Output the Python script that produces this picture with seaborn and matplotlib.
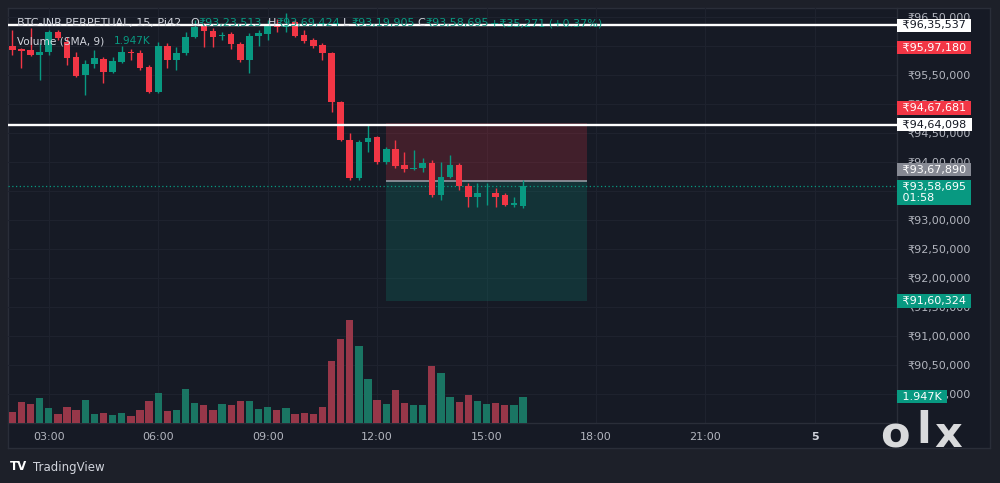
import numpy as np
import pandas as pd
import matplotlib
matplotlib.use("Agg")
import matplotlib.pyplot as plt
import seaborn as sns
from matplotlib.patches import Rectangle

# ---------------- data ----------------
symbol = "BTC-INR PERPETUAL, 15, Pi42"
first_bar_hour = 2          # first candle opens 02:00, 15-minute bars
bars_per_hour = 4

time_tick_labels = ["03:00", "06:00", "09:00", "12:00", "15:00", "18:00", "21:00", "5"]
time_tick_hours = [3, 6, 9, 12, 15, 18, 21, 24]

open_ = [9600517, 9594828, 9593103, 9584483, 9589655, 9624138, 9606897, 9581034,
         9550000, 9568966, 9577586, 9555172, 9572414, 9589655, 9587931, 9563793,
         9520690, 9600000, 9575862, 9587931, 9615517, 9636207, 9625862, 9617241,
         9620690, 9603448, 9575862, 9617241, 9620690, 9636207, 9632759, 9641379,
         9618966, 9610345, 9601724, 9587931, 9503448, 9437931, 9372414, 9434483,
         9443103, 9400000, 9422414, 9394828, 9387931, 9389655, 9398276, 9343103,
         9374138, 9394828, 9358621, 9339655, 9345690, 9346552, 9343103, 9325862,
         9323513]
high = [9627586, 9596552, 9631035, 9605172, 9627586, 9627586, 9615517, 9589655,
        9575862, 9593103, 9581034, 9581034, 9600000, 9594828, 9593103, 9567241,
        9606897, 9605172, 9598276, 9624138, 9644828, 9639655, 9631035, 9624138,
        9624138, 9606897, 9622414, 9627586, 9644828, 9646552, 9656897, 9644828,
        9627586, 9613793, 9605172, 9589655, 9505172, 9450000, 9437931, 9463793,
        9444828, 9425862, 9437931, 9417241, 9420690, 9406897, 9403448, 9400000,
        9412069, 9398276, 9363793, 9363793, 9363793, 9355172, 9346552, 9339655,
        9369424]
low = [9584483, 9562069, 9582759, 9541379, 9584483, 9610345, 9567241, 9546552,
       9515517, 9562069, 9536207, 9553448, 9570690, 9575862, 9558621, 9518966,
       9518966, 9562069, 9558621, 9584483, 9613793, 9598276, 9598276, 9610345,
       9594828, 9572414, 9553448, 9600000, 9610345, 9624138, 9624138, 9615517,
       9605172, 9596552, 9575862, 9486207, 9436207, 9368966, 9368966, 9417241,
       9396552, 9396552, 9389655, 9382759, 9386207, 9382759, 9339655, 9334483,
       9372414, 9351724, 9322414, 9322414, 9325862, 9322414, 9324138, 9322414,
       9319905]
close = [9593103, 9591379, 9584483, 9589655, 9624138, 9613793, 9579310, 9548276,
         9568966, 9579310, 9555172, 9574138, 9589655, 9587069, 9562069, 9520690,
         9600000, 9575862, 9587931, 9615517, 9632759, 9625862, 9615517, 9618966,
         9603448, 9575862, 9617241, 9622414, 9636207, 9632759, 9637931, 9617241,
         9608621, 9600000, 9587931, 9503448, 9437931, 9372414, 9434483, 9441379,
         9400000, 9422414, 9393103, 9387931, 9389655, 9398276, 9343103, 9374138,
         9394828, 9358621, 9339655, 9346552, 9346552, 9339655, 9325862, 9330000,
         9358695]
volume_k = [0.79, 1.53, 1.43, 1.85, 1.13, 0.64, 1.21, 0.99, 1.70, 0.64, 0.74, 0.59,
            0.74, 0.54, 0.99, 1.63, 2.24, 0.91, 0.94, 2.54, 1.48, 1.36, 0.99, 1.38,
            1.31, 1.65, 1.65, 1.06, 1.18, 0.99, 1.08, 0.67, 0.76, 0.64, 1.18, 4.58,
            6.21, 7.64, 5.72, 3.23, 1.70, 1.43, 2.46, 1.48, 1.33, 1.33, 4.19, 3.70,
            1.90, 1.58, 2.05, 1.65, 1.43, 1.45, 1.36, 1.31, 1.947]

header_ohlc = [("O", "₹93,23,513"), ("H", "₹93,69,424"), ("L", "₹93,19,905"), ("C", "₹93,58,695")]
header_change = "+₹35,271 (+0.37%)"
volume_legend = ("Volume (SMA, 9)", "1.947K")

level_lines = [9635537, 9464098]
alert_price = 9597180
pos_stop, pos_entry, pos_target = 9467681, 9367890, 9160324
pos_start_bar, pos_end_bar = 41, 63
countdown = "01:58"

# ---------------- style ----------------
BG = "#161a25"
OUTER = "#1d2029"
GRID = "#1e222e"
SEP = "#2a2e39"
RED = "#f23645"
GREEN = "#089981"
VOL_RED = "#973749"
VOL_GREEN = "#1a7563"
AXTXT = "#b2b5be"
HDR = "#d1d4dc"

sns.set_theme(style="dark")
plt.rcParams["font.family"] = ["DejaVu Sans", "Noto Sans"]


def inr(v):
    s = str(int(round(v)))
    head, tail = s[:-3], s[-3:]
    parts = []
    while len(head) > 2:
        parts.insert(0, head[-2:])
        head = head[:-2]
    if head:
        parts.insert(0, head)
    return "₹" + ",".join(parts + [tail])


W, H = 1000, 483
fig = plt.figure(figsize=(W / 100, H / 100), dpi=100, facecolor=OUTER)


def fx(px):
    return px / W


def fy(py):
    return 1 - py / H


panel = fig.add_axes([fx(8), fy(448), fx(990 - 8), (448 - 8) / H])
panel.set_facecolor(BG)
panel.set_xticks([])
panel.set_yticks([])
for s in panel.spines.values():
    s.set_color(SEP)
    s.set_linewidth(1)

ax = fig.add_axes([fx(8), fy(423), fx(897 - 8), (423 - 8) / H])
ax.set_facecolor("none")

n = len(close)
idx = np.arange(n)
o = np.array(open_, float)
c = np.array(close, float)
hi = np.array(high, float)
lo = np.array(low, float)
up = c >= o
cols = np.where(up, GREEN, RED)

# position tool
ax.add_patch(Rectangle((pos_start_bar, pos_entry), pos_end_bar - pos_start_bar, pos_stop - pos_entry,
                       facecolor=RED, alpha=0.2, lw=0, zorder=1))
ax.add_patch(Rectangle((pos_start_bar, pos_target), pos_end_bar - pos_start_bar, pos_entry - pos_target,
                       facecolor=GREEN, alpha=0.2, lw=0, zorder=1))
ax.hlines(pos_entry, pos_start_bar, pos_end_bar, color="#9598a1", lw=1.2, zorder=2)

# current price line
ax.axhline(c[-1], color=GREEN, lw=0.9, ls=(0, (1, 2)), zorder=2)

# candles
ax.vlines(idx, lo, hi, colors=cols, lw=1.0, zorder=3)
body_low = np.minimum(o, c)
body_h = np.maximum(np.abs(c - o), 1500)
ax.bar(idx, body_h, bottom=body_low, width=0.72, color=cols, linewidth=0, zorder=4)

# horizontal levels
for lv in level_lines:
    ax.axhline(lv, color="white", lw=1.7, zorder=5)

ax.set_xlim(-0.47, 97.0)
ax.set_ylim(8950000, 9665500)

# volume
axv = ax.twinx()
vdf = pd.DataFrame({"bar": idx, "volume": volume_k, "dir": np.where(up, "up", "down")})
sns.barplot(data=vdf, x="bar", y="volume", hue="dir", palette={"up": VOL_GREEN, "down": VOL_RED},
            native_scale=True, width=0.8, dodge=False, legend=False, saturation=1,
            linewidth=0, ax=axv)
axv.set_ylim(0, 30.74)
axv.yaxis.set_visible(False)
axv.set_xlabel("")
axv.set_ylabel("")
for s in axv.spines.values():
    s.set_visible(False)

ax.set_xlim(-0.47, 97.0)

# axes ticks (levels fully hidden behind price tags are left blank)
covered = {9600000, 9350000}
yt = np.arange(9000000, 9650001, 50000)
ax.set_yticks(yt)
ax.set_yticklabels(["" if v in covered else inr(v) for v in yt])
ax.yaxis.tick_right()
ax.tick_params(axis="y", length=0, pad=7.2, labelsize=8, labelcolor=AXTXT)
tick_pos = [(h - first_bar_hour) * bars_per_hour for h in time_tick_hours]
ax.set_xticks(tick_pos)
ax.set_xticklabels(time_tick_labels)
ax.tick_params(axis="x", length=0, pad=6.5, labelsize=8, labelcolor=AXTXT)
lbls = ax.get_xticklabels()
lbls[-1].set_fontweight("bold")
lbls[-1].set_color(HDR)
ax.grid(True, color=GRID, lw=0.8)
ax.set_xlabel("")
ax.set_ylabel("")
for k, s in ax.spines.items():
    if k in ("right", "bottom"):
        s.set_color(SEP)
        s.set_linewidth(1)
        s.set_visible(True)
    else:
        s.set_visible(False)


def tag(axis, y, text, fc, tc, dy=0.0):
    axis.annotate(text, xy=(1, y), xycoords=axis.get_yaxis_transform(), xytext=(1.5, dy),
                  textcoords="offset points", ha="left", va="center", fontsize=8, color=tc,
                  bbox=dict(boxstyle="square,pad=0.15", fc=fc, ec="none"),
                  annotation_clip=False, zorder=10)


tag(ax, level_lines[0], " " + inr(level_lines[0]) + " ", "white", "#131722")
tag(ax, alert_price, " " + inr(alert_price) + " ", RED, "white")
tag(ax, pos_stop, " " + inr(pos_stop) + " ", RED, "white", dy=10.6)
tag(ax, level_lines[1], " " + inr(level_lines[1]) + " ", "white", "#131722")
tag(ax, pos_entry, " " + inr(pos_entry) + " ", "#868993", "white", dy=7.9)
tag(ax, c[-1], " " + inr(c[-1]) + " \n " + countdown, GREEN, "white", dy=-4.8)
tag(ax, pos_target, " " + inr(pos_target) + " ", GREEN, "white")
tag(axv, volume_k[-1], " " + volume_legend[1] + " ", GREEN, "white")

# header
fig.text(fx(17), fy(23), symbol, color=HDR, fontsize=8, va="center", ha="left")
hx = [190, 268, 343, 417]
for (lab, val), x0 in zip(header_ohlc, hx):
    fig.text(fx(x0), fy(23), lab, color=HDR, fontsize=8, va="center", ha="left")
    fig.text(fx(x0 + 8), fy(23), val, color=GREEN, fontsize=8, va="center", ha="left")
fig.text(fx(490), fy(23), header_change, color=GREEN, fontsize=8, va="center", ha="left")
fig.text(fx(17), fy(41), volume_legend[0], color=HDR, fontsize=7.6, va="center", ha="left")
fig.text(fx(114), fy(41), volume_legend[1], color=GREEN, fontsize=7.6, va="center", ha="left")

# footer
fig.text(fx(10), fy(467), "TV", color="white", fontsize=8.5, fontweight="bold", va="center", ha="left")
fig.text(fx(33), fy(467), "TradingView", color=HDR, fontsize=8.5, va="center", ha="left")

# watermark
fig.text(fx(895), fy(435), "o", color="#d9dadc", fontsize=31, fontweight="bold", va="center", ha="center", zorder=20)
fig.text(fx(924), fy(431), "l", color="#d9dadc", fontsize=31, fontweight="bold", va="center", ha="center", zorder=20)
fig.text(fx(948), fy(435), "x", color="#d9dadc", fontsize=31, fontweight="bold", va="center", ha="center", zorder=20)

fig.savefig("out.png", dpi=100, facecolor=OUTER)
